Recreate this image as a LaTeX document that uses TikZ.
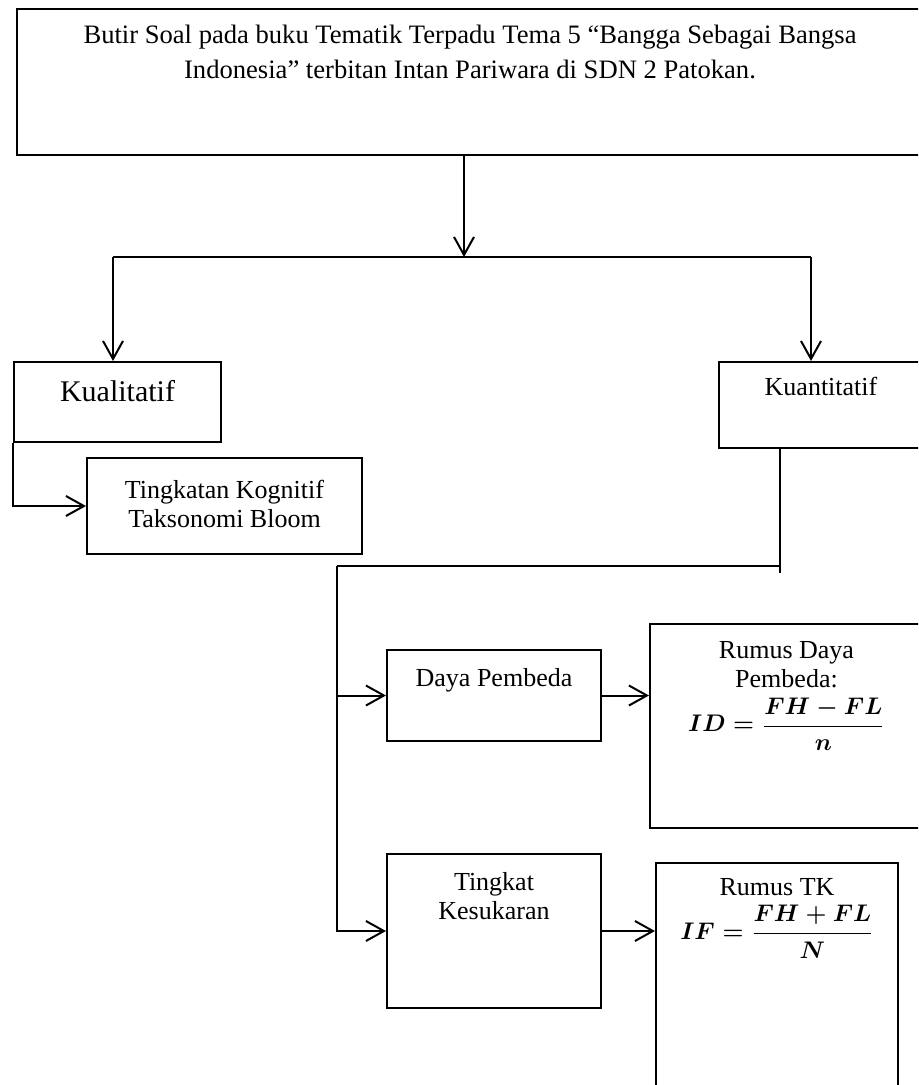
\documentclass[tikz,border=0pt]{standalone}
\usepackage{amsmath}
\usepackage{fontspec}
\setmainfont{Liberation Serif}
\usetikzlibrary{arrows.meta}
\tikzset{
  flowbox/.style={draw,line width=1pt,inner sep=0pt,anchor=north west,font=\fontsize{13}{14.5}\selectfont},
  flowline/.style={line width=1pt},
  flowarrow/.style={line width=1pt,-{Straight Barb[length=9pt,width=10pt,line width=1pt]}},
}
% text set at the top of a box: width, height, top gap, text
\newcommand{\boxtext}[4]{\parbox[t][#2][t]{#1}{\centering\vspace*{#3}#4}}
\newcommand{\rumus}[1]{{\fontsize{11.5}{13}\selectfont\boldmath$\displaystyle #1$}}

\begin{document}
\begin{tikzpicture}[x=0.5pt,y=-0.5pt]
  \useasboundingbox (0,0) rectangle (918,1085);
  \clip (0,0) rectangle (918,1085);
  % boxes
  \node[flowbox] (soal) at (16,8) {\fontsize{13.3}{17.5}\selectfont
    \boxtext{453pt}{73pt}{8pt}{Butir Soal pada buku Tematik Terpadu Tema 5 “Bangga Sebagai Bangsa\\
    Indonesia” terbitan Intan Pariwara di SDN 2 Patokan.}};
  \node[flowbox] (kual) at (13,361) {\fontsize{15}{17}\selectfont
    \boxtext{103.5pt}{40pt}{9pt}{Kualitatif}};
  \node[flowbox] (kuan) at (718,361) {\boxtext{102pt}{43pt}{7.6pt}{Kuantitatif}};
  \node[flowbox] (ting) at (86,457) {\boxtext{137.5pt}{48pt}{11pt}{Tingkatan Kognitif\\ Taksonomi Bloom}};
  \node[flowbox] (daya) at (386,649) {\boxtext{107pt}{45.5pt}{9pt}{Daya Pembeda}};
  \node[flowbox] (rumusid) at (649,623) {\boxtext{136.5pt}{102pt}{8.6pt}{Rumus Daya\\ Pembeda:\\[4pt]
    \rumus{ID=\frac{FH-FL}{n}}}};
  \node[flowbox] (tingkat) at (386,853) {\boxtext{107pt}{77pt}{9pt}{Tingkat\\ Kesukaran}};
  \node[flowbox] (rumustk) at (655,862) {\boxtext{121pt}{120pt}{7.6pt}{Rumus TK\\[4pt]
    \rumus{IF=\frac{FH+FL}{N}}}};
  % split below the top box
  \coordinate (splitc) at (464,257);
  \coordinate (splitl) at (113,257);
  \coordinate (splitr) at (811,257);
  \draw[flowarrow] (soal.south -| splitc) -- (splitc);
  \draw[flowline] (splitl) -- (splitr);
  \draw[flowarrow] (splitl) -- (splitl |- kual.north);
  \draw[flowarrow] (splitr) -- (splitr |- kuan.north);
  \draw[flowarrow] (kual.south west) |- (ting.west);
  % kuantitatif branch
  \coordinate (kdrop) at (780,573);
  \coordinate (kjoin) at (780,566);
  \coordinate (kleft) at (337,566);
  \draw[flowline] (kuan.south -| kdrop) -- (kdrop);
  \draw[flowline] (kjoin) -- (kleft);
  \draw[flowarrow] (kleft) |- (tingkat.west);
  \draw[flowarrow] (kleft |- daya.west) -- (daya.west);
  \draw[flowarrow] (daya.east) -- (daya.east -| rumusid.west);
  \draw[flowarrow] (tingkat.east) -- (tingkat.east -| rumustk.west);
\end{tikzpicture}
\end{document}
